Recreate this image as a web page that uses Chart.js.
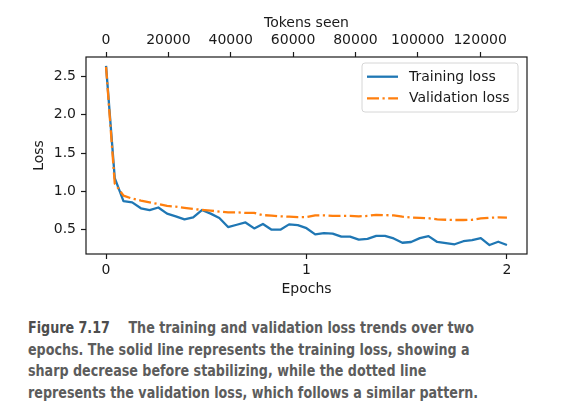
<!DOCTYPE html>
<html>
<head>
<meta charset="utf-8">
<script src="https://cdn.jsdelivr.net/npm/chart.js@4.4.1/dist/chart.umd.min.js"></script>
<style>
  body { margin: 0; background: #fff; width: 585px; height: 420px; overflow: hidden; position: relative; }
  #wrap { position: absolute; left: 0; top: 0; width: 585px; height: 300px; }
  #caption {
    position: absolute; left: 28px; top: 317px; width: 640px;
    font-family: "DejaVu Sans Condensed", "DejaVu Sans", sans-serif;
    font-weight: bold; font-size: 16px; line-height: 21.7px; color: #5c5c5c;
    white-space: nowrap;
    transform: scaleX(0.883); transform-origin: 0 0;
  }
  #caption .fig { color: #4d4d4d; margin-right: 21px; }
</style>
</head>
<body>
<div id="wrap"><canvas id="chart"></canvas></div>
<div id="caption"><span class="fig">Figure 7.17</span>The training and validation loss trends over two<br>epochs. The solid line represents the training loss, showing a<br>sharp decrease before stabilizing, while the dotted line<br>represents the validation loss, which follows a similar pattern.</div>

<script>
// evaluation every 5 steps, 115 steps per epoch
const steps = [0, 5, 10, 15, 20, 25, 30, 35, 40, 45, 50, 55, 60, 65, 70, 75, 80, 85, 90, 95,
  100, 105, 110, 115, 120, 125, 130, 135, 140, 145, 150, 155, 160, 165, 170, 175, 180, 185,
  190, 195, 200, 205, 210, 215, 220, 225, 230];
const trainLoss = [2.637, 1.174, 0.872, 0.857, 0.78, 0.755, 0.79, 0.71, 0.675, 0.635, 0.66,
  0.757, 0.71, 0.653, 0.535, 0.565, 0.595, 0.517, 0.575, 0.50, 0.50, 0.57, 0.56, 0.52, 0.44,
  0.456, 0.45, 0.41, 0.41, 0.37, 0.38, 0.42, 0.42, 0.386, 0.33, 0.34, 0.39, 0.417, 0.34,
  0.326, 0.31, 0.35, 0.365, 0.39, 0.30, 0.343, 0.300];
const valLoss = [2.626, 1.103, 0.944, 0.906, 0.88, 0.857, 0.835, 0.81, 0.80, 0.785, 0.77,
  0.76, 0.75, 0.735, 0.727, 0.727, 0.72, 0.72, 0.69, 0.685, 0.675, 0.67, 0.665, 0.665, 0.687,
  0.687, 0.68, 0.68, 0.68, 0.675, 0.68, 0.695, 0.69, 0.687, 0.67, 0.66, 0.655, 0.65, 0.635,
  0.63, 0.627, 0.627, 0.63, 0.648, 0.657, 0.66, 0.657];
const stepsPerEpoch = 115;
const epochTicks = [0, 1, 2];
const tokensSeenMax = 128600;
const tokenTicks = [0, 20000, 40000, 60000, 80000, 100000, 120000];
const lossTicks = [0.5, 1.0, 1.5, 2.0, 2.5];

const textColor = '#1a1a1a';
Chart.defaults.font.family = 'DejaVu Sans';
Chart.defaults.font.size = 14;
Chart.defaults.color = textColor;

// matplotlib style 5% margins
const lastStep = steps[steps.length - 1];
const allLoss = trainLoss.concat(valLoss);
const yLo = Math.min(...allLoss), yHi = Math.max(...allLoss);
const yPad = (yHi - yLo) * 0.05;

const tickGrid = {
  display: true, drawOnChartArea: false, drawTicks: true,
  tickLength: 5, tickWidth: 1.2, tickColor: '#1a1a1a'
};

const framePlugin = {
  id: 'frameAndLegend',
  afterDatasetsDraw(chart) {
    const ctx = chart.ctx;
    const a = chart.chartArea;
    ctx.save();
    ctx.strokeStyle = '#1a1a1a';
    ctx.lineWidth = 1.2;
    ctx.strokeRect(a.left, a.top, a.right - a.left, a.bottom - a.top);

    // legend box, upper right
    const bx = a.right - 165, by = a.top + 6, bw = 156, bh = 49, r = 3;
    ctx.beginPath();
    ctx.moveTo(bx + r, by);
    ctx.arcTo(bx + bw, by, bx + bw, by + bh, r);
    ctx.arcTo(bx + bw, by + bh, bx, by + bh, r);
    ctx.arcTo(bx, by + bh, bx, by, r);
    ctx.arcTo(bx, by, bx + bw, by, r);
    ctx.closePath();
    ctx.fillStyle = 'rgba(255,255,255,0.8)';
    ctx.fill();
    ctx.strokeStyle = '#d6d6d6';
    ctx.lineWidth = 1;
    ctx.stroke();

    chart.data.datasets.forEach((ds, i) => {
      const y = a.top + 19.7 + i * 21.6;
      ctx.beginPath();
      ctx.setLineDash(ds.borderDash || []);
      ctx.strokeStyle = ds.borderColor;
      ctx.lineWidth = ds.borderWidth;
      ctx.moveTo(a.right - 160, y);
      ctx.lineTo(a.right - 129, y);
      ctx.stroke();
      ctx.setLineDash([]);
      ctx.fillStyle = textColor;
      ctx.font = '14px "DejaVu Sans"';
      ctx.textAlign = 'left';
      ctx.textBaseline = 'middle';
      ctx.fillText(ds.label, a.right - 118, y + 0.5);
    });
    ctx.restore();
  }
};

new Chart(document.getElementById('chart'), {
  type: 'line',
  data: {
    datasets: [{
      label: 'Training loss',
      data: steps.map((s, i) => ({ x: s, y: trainLoss[i] })),
      borderColor: '#1f77b4',
      borderWidth: 2.3,
      borderJoinStyle: 'round',
      pointRadius: 0,
      tension: 0,
      order: 1
    }, {
      label: 'Validation loss',
      data: steps.map((s, i) => ({ x: s, y: valLoss[i] })),
      borderColor: '#ff7f0e',
      borderWidth: 2.3,
      borderDash: [12, 3.5, 2.2, 3.5],
      borderJoinStyle: 'round',
      pointRadius: 0,
      tension: 0,
      order: 0
    }]
  },
  options: {
    responsive: true,
    maintainAspectRatio: false,
    animation: false,
    layout: { padding: { left: 0, right: 58, top: 0, bottom: 0 } },
    plugins: { legend: { display: false }, tooltip: { enabled: false } },
    scales: {
      x: {
        type: 'linear', position: 'bottom',
        min: -0.05 * lastStep, max: 1.05 * lastStep,
        grid: tickGrid, border: { display: false },
        afterBuildTicks: (s) => { s.ticks = epochTicks.map(e => ({ value: e * stepsPerEpoch })); },
        afterFit: (s) => { s.height = 46; },
        ticks: { padding: 3, autoSkip: false, maxRotation: 0,
          callback: (v) => String(Math.round(v / stepsPerEpoch)) },
        title: { display: true, text: 'Epochs', padding: { top: 0, bottom: 2 } }
      },
      tok: {
        type: 'linear', position: 'top',
        min: -0.05 * tokensSeenMax, max: 1.05 * tokensSeenMax,
        grid: tickGrid, border: { display: false },
        afterBuildTicks: (s) => { s.ticks = tokenTicks.map(v => ({ value: v })); },
        afterFit: (s) => { s.height = 57; },
        ticks: { padding: 3, autoSkip: false, maxRotation: 0, callback: (v) => String(v) },
        title: { display: true, text: 'Tokens seen', padding: { top: 15, bottom: 0 } }
      },
      y: {
        type: 'linear', position: 'left',
        min: yLo - yPad, max: yHi + yPad,
        grid: tickGrid, border: { display: false },
        afterBuildTicks: (s) => { s.ticks = lossTicks.map(v => ({ value: v })); },
        afterFit: (s) => { s.width = 86; },
        ticks: { padding: 5, callback: (v) => v.toFixed(1) },
        title: { display: true, text: 'Loss', padding: { top: 31, bottom: 0 } }
      }
    }
  },
  plugins: [framePlugin]
});
</script>
</body>
</html>
